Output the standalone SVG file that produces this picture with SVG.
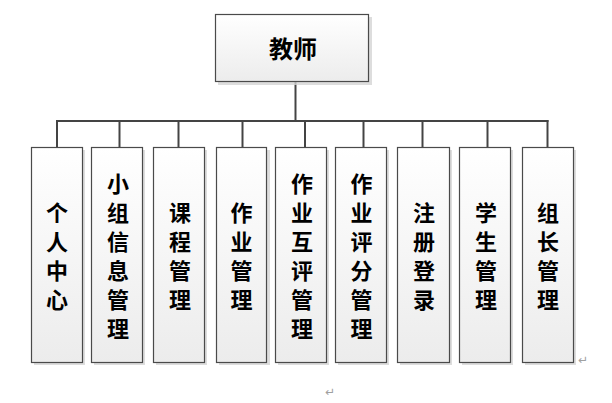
<svg xmlns="http://www.w3.org/2000/svg" width="612" height="403" viewBox="0 0 612 403">
<defs>
<linearGradient id="g" x1="0" y1="0" x2="0" y2="1">
<stop offset="0" stop-color="#ffffff"/>
<stop offset="1" stop-color="#ececec"/>
</linearGradient>
<style>
.sh{fill:#d4d4d4;opacity:0.8}
.bx{fill:url(#g);stroke:#4a4a4a;stroke-width:1.2}
.t{font-family:"Noto Sans CJK SC","Noto Sans CJK JP",sans-serif;font-weight:bold;font-size:22px;fill:#000;text-anchor:middle;dominant-baseline:central}
.ln{stroke:#444;stroke-width:2;fill:none}
.pm{font-family:"DejaVu Sans",sans-serif;font-size:12px;fill:#a0a0a0}
</style>
</defs>
<rect width="612" height="403" fill="#fff"/>
<g id="connectors">
<line class="ln" x1="295.5" y1="82" x2="295.5" y2="121"/>
<line class="ln" x1="56" y1="121" x2="548.5" y2="121"/>
<line class="ln" x1="57" y1="120" x2="57" y2="148"/>
<line class="ln" x1="119.5" y1="121" x2="119.5" y2="149"/>
<line class="ln" x1="178.5" y1="121" x2="178.5" y2="149"/>
<line class="ln" x1="242.5" y1="121" x2="242.5" y2="149"/>
<line class="ln" x1="305" y1="121" x2="305" y2="149"/>
<line class="ln" x1="363.5" y1="121" x2="363.5" y2="149"/>
<line class="ln" x1="422.5" y1="121" x2="422.5" y2="149"/>
<line class="ln" x1="487.5" y1="121" x2="487.5" y2="149"/>
<line class="ln" x1="547.5" y1="120" x2="547.5" y2="148"/>
</g>
<g id="teacher">
<rect class="sh" x="218" y="17" width="154" height="68"/>
<rect class="bx" x="215.5" y="14.5" width="153" height="67"/>
<text class="t" x="293" y="47" style="font-size:24px">教师</text>
</g>
<g id="n1">
<rect class="sh" x="34" y="150" width="51" height="215"/>
<rect class="bx" x="31.5" y="147.5" width="51" height="215"/>
<text class="t"><tspan x="57" y="211">个</tspan><tspan x="57" y="240">人</tspan><tspan x="57" y="269">中</tspan><tspan x="57" y="298">心</tspan></text>
</g>
<g id="n2">
<rect class="sh" x="94" y="150" width="51" height="215"/>
<rect class="bx" x="91.5" y="147.5" width="51" height="215"/>
<text class="t"><tspan x="118" y="182">小</tspan><tspan x="118" y="211">组</tspan><tspan x="118" y="240">信</tspan><tspan x="118" y="269">息</tspan><tspan x="118" y="298">管</tspan><tspan x="118" y="327">理</tspan></text>
</g>
<g id="n3">
<rect class="sh" x="156" y="150" width="51" height="215"/>
<rect class="bx" x="153.5" y="147.5" width="51" height="215"/>
<text class="t"><tspan x="180" y="211">课</tspan><tspan x="180" y="240">程</tspan><tspan x="180" y="269">管</tspan><tspan x="180" y="298">理</tspan></text>
</g>
<g id="n4">
<rect class="sh" x="219" y="150" width="51" height="215"/>
<rect class="bx" x="216.5" y="147.5" width="50" height="215"/>
<text class="t"><tspan x="241.5" y="211">作</tspan><tspan x="241.5" y="240">业</tspan><tspan x="241.5" y="269">管</tspan><tspan x="241.5" y="298">理</tspan></text>
</g>
<g id="n5">
<rect class="sh" x="278" y="150" width="51" height="215"/>
<rect class="bx" x="275.5" y="147.5" width="51" height="215"/>
<text class="t"><tspan x="302" y="182">作</tspan><tspan x="302" y="211">业</tspan><tspan x="302" y="240">互</tspan><tspan x="302" y="269">评</tspan><tspan x="302" y="298">管</tspan><tspan x="302" y="327">理</tspan></text>
</g>
<g id="n6">
<rect class="sh" x="338" y="150" width="51" height="215"/>
<rect class="bx" x="335.5" y="147.5" width="51" height="215"/>
<text class="t"><tspan x="361.5" y="182">作</tspan><tspan x="361.5" y="211">业</tspan><tspan x="361.5" y="240">评</tspan><tspan x="361.5" y="269">分</tspan><tspan x="361.5" y="298">管</tspan><tspan x="361.5" y="327">理</tspan></text>
</g>
<g id="n7">
<rect class="sh" x="400" y="150" width="52" height="215"/>
<rect class="bx" x="397.5" y="147.5" width="52" height="215"/>
<text class="t"><tspan x="424" y="211">注</tspan><tspan x="424" y="240">册</tspan><tspan x="424" y="269">登</tspan><tspan x="424" y="298">录</tspan></text>
</g>
<g id="n8">
<rect class="sh" x="462" y="150" width="51" height="215"/>
<rect class="bx" x="459.5" y="147.5" width="51" height="215"/>
<text class="t"><tspan x="486" y="211">学</tspan><tspan x="486" y="240">生</tspan><tspan x="486" y="269">管</tspan><tspan x="486" y="298">理</tspan></text>
</g>
<g id="n9">
<rect class="sh" x="525" y="150" width="51" height="215"/>
<rect class="bx" x="522.5" y="147.5" width="51" height="215"/>
<text class="t"><tspan x="548" y="211">组</tspan><tspan x="548" y="240">长</tspan><tspan x="548" y="269">管</tspan><tspan x="548" y="298">理</tspan></text>
</g>
<text class="pm" x="578" y="364">↵</text>
<text class="pm" x="325" y="396">↵</text>
</svg>
